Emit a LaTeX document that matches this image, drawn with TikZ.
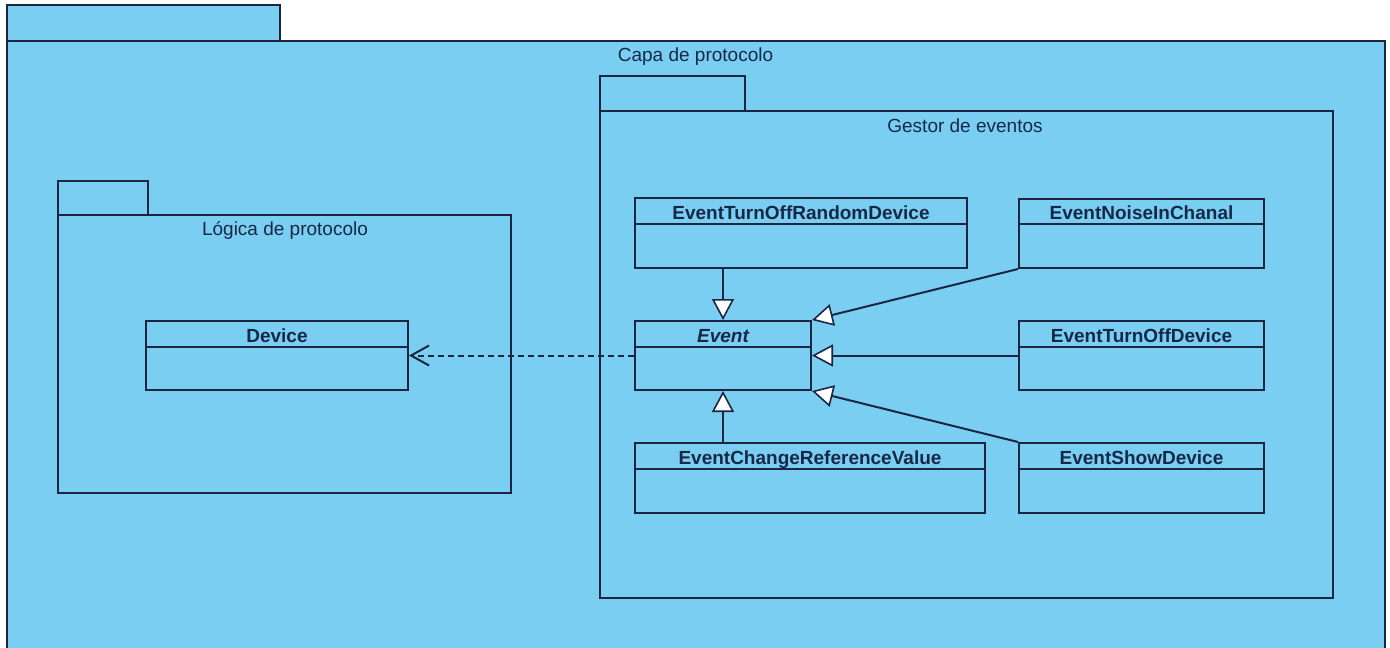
\documentclass[tikz,border=0pt]{standalone}
\usepackage{fontspec}
\setmainfont{Liberation Sans}
\usetikzlibrary{arrows.meta,calc}
\definecolor{pkgfill}{RGB}{122,206,242}
\definecolor{lineC}{RGB}{28,38,66}
\definecolor{textC}{RGB}{22,40,72}
\newcommand{\umlclass}[7]{%
  \pgfmathsetmacro\cw{#4-#2}\pgfmathsetmacro\ch{#5-#3}%
  \node[cls, minimum width=\cw pt, minimum height=\ch pt] (#1) at ({(#2+#4)/2},{(#3+#5)/2}) {};
  \draw[sep] (#1.west |- 0,#6) -- (#1.east |- 0,#6);
  \node[ttl] (#1-t) at ({(#2+#4)/2},{#6-5}) {#7};}
\begin{document}
\begin{tikzpicture}[x=1pt,y=-1pt,
  pkg/.style={draw=lineC, fill=pkgfill, line width=2pt},
  cls/.style={draw=lineC, fill=pkgfill, line width=2pt, rectangle, inner sep=0pt},
  sep/.style={draw=lineC, line width=2pt},
  lbl/.style={font=\fontsize{19}{22}\selectfont, text=textC, anchor=base, inner sep=0pt},
  ttl/.style={font=\fontsize{19}{22}\selectfont\bfseries, text=textC, anchor=base, inner sep=0pt},
  gen/.style={draw=lineC, line width=2pt, -{Triangle[length=21pt, width=22pt, fill=white, line width=1.6pt]}},
  dep/.style={draw=lineC, line width=2pt, dash pattern=on 6pt off 4pt, -{Straight Barb[length=18pt,width=20pt]}}]
\useasboundingbox (0,0) rectangle (1390,648);
\fill[white] (0,0) rectangle (1390,648);
\clip (0,0) rectangle (1390,648);
% outer package
\draw[pkg] (7,41) rectangle (1385,670);
\draw[pkg] (7,5) rectangle (280,41);
\node[lbl] (capa) at (695.5,61) {Capa de protocolo};
% Gestor de eventos
\draw[pkg] (600,111) rectangle (1333,598);
\draw[pkg] (600,76) rectangle (745,111);
\node[lbl] (gestor) at (965,132) {Gestor de eventos};
% Logica de protocolo
\draw[pkg] (58,215) rectangle (511,493);
\draw[pkg] (58,181) rectangle (148,215);
\node[lbl] (logica) at (285,235) {Lógica de protocolo};
% classes
\umlclass{device}{146}{321}{408}{390}{347}{Device}
\umlclass{event}{635}{321}{811}{390}{347}{\itshape Event}
\umlclass{tor}{635}{198}{967}{268}{224}{EventTurnOffRandomDevice}
\umlclass{noise}{1019}{199}{1264}{268}{224}{EventNoiseInChanal}
\umlclass{tod}{1019}{321}{1264}{390}{347}{EventTurnOffDevice}
\umlclass{show}{1019}{443}{1264}{513}{469}{EventShowDevice}
\umlclass{crv}{635}{443}{985}{513}{469}{EventChangeReferenceValue}
% connectors
\draw[gen] (event.north |- tor.south) -- (event.north);
\draw[gen] (event.south |- crv.north) -- (event.south);
\draw[gen] (noise.south west) -- (event.north east);
\draw[gen] (tod.west) -- (tod.west -| event.east);
\draw[gen] (show.north west) -- (event.south east);
\draw[dep] (event.west) -- (device.east);
\end{tikzpicture}
\end{document}
